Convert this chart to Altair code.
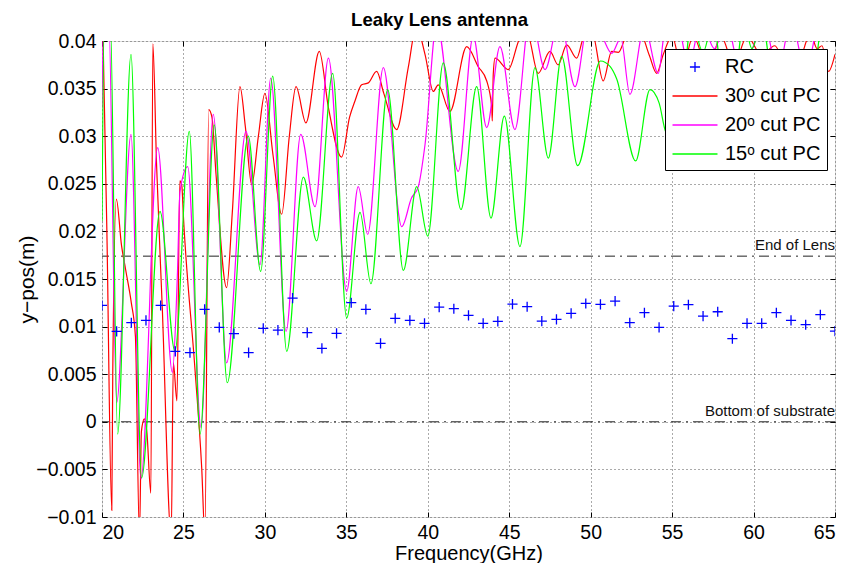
import altair as alt
import pandas as pd

FONT = "Liberation Sans"

# ---------------- data ----------------
rc_freq = [20.0, 20.9, 21.8, 22.7, 23.6, 24.5, 25.4, 26.3, 27.2, 28.1, 29.0, 29.9, 30.8,
           31.7, 32.6, 33.5, 34.4, 35.3, 36.2, 37.1, 38.0, 38.9, 39.8, 40.7, 41.6, 42.5,
           43.4, 44.3, 45.2, 46.1, 47.0, 47.9, 48.8, 49.7, 50.6, 51.5, 52.4, 53.3, 54.2,
           55.1, 56.0, 56.9, 57.8, 58.7, 59.6, 60.5, 61.4, 62.3, 63.2, 64.1, 65.0]
rc_ypos = [0.01222, 0.00950, 0.01041, 0.01065, 0.01222, 0.00740, 0.00726, 0.01181, 0.00992,
           0.00926, 0.00726, 0.00981, 0.00963, 0.01299, 0.00936, 0.00771, 0.00929, 0.01251,
           0.01181, 0.00824, 0.01086, 0.01065, 0.01034, 0.01205, 0.01188, 0.01118, 0.01034,
           0.01055, 0.01236, 0.01209, 0.01058, 0.01076, 0.01139, 0.01243, 0.01233, 0.01268,
           0.01041, 0.01146, 0.00992, 0.01215, 0.01230, 0.01110, 0.01156, 0.00873, 0.01034,
           0.01034, 0.01146, 0.01065, 0.01020, 0.01125, 0.00953]

red_freq = [20.0, 20.3, 20.6, 20.66, 20.88, 21.2, 21.45, 21.8, 22.05, 22.3, 22.42, 22.6, 22.75,
            23.0, 23.12, 23.35, 23.7, 24.25, 24.38, 24.6, 24.78, 24.9, 25.0, 25.7, 26.12, 26.32,
            26.55, 26.75, 27.0, 27.65, 28.0, 28.47, 28.8, 29.19, 29.6, 30.0, 30.5, 31.03, 31.5,
            31.91, 32.52, 33.34, 33.9, 34.71, 35.2, 35.53, 35.94, 36.35, 36.86, 37.3, 38.09,
            38.8, 39.3, 39.83, 40.34, 40.64, 41.36, 42.39, 43.1, 43.62, 43.93, 43.96, 44.02,
            44.13, 44.94, 45.66, 46.1, 46.78, 47.5, 48.0, 48.53, 49.14, 49.6, 50.1, 50.77,
            51.29, 51.7, 52.2, 53.0, 53.6, 54.05, 54.46, 55.0, 55.6, 56.3, 57.2, 58.0, 58.8,
            59.6, 60.5, 61.3, 62.0, 62.8, 63.5, 63.9, 64.2, 64.6, 65.0]
red_ypos = [0.046, 0.020, -0.0093, 0.005, 0.0234, 0.0185, 0.0160, 0.0125, 0.0090, -0.0120,
            -0.0010, 0.0003, -0.0010, -0.0075, 0.0397, 0.0270, 0.0120, -0.0120, 0.0062, 0.0022,
            0.0253, 0.0248, 0.0215, 0.0057, -0.0048, -0.0120, 0.0328, 0.0320, 0.0260, 0.0141,
            0.0220, 0.0352, 0.0310, 0.0249, 0.0300, 0.0345, 0.0280, 0.0218, 0.0300, 0.0352,
            0.0314, 0.0389, 0.0330, 0.0278, 0.0320, 0.0337, 0.0354, 0.0356, 0.0368, 0.0345,
            0.0307, 0.0372, 0.0415, 0.0386, 0.0347, 0.0354, 0.0326, 0.0394, 0.0373, 0.0358,
            0.0330, 0.0316, 0.0365, 0.0382, 0.0370, 0.0403, 0.0408, 0.0366, 0.0389, 0.0375,
            0.0396, 0.0382, 0.0405, 0.0408, 0.0358, 0.0389, 0.0388, 0.0405, 0.0410, 0.0385,
            0.0366, 0.0386, 0.0405, 0.0370, 0.0405, 0.0370, 0.0405, 0.0375, 0.0405, 0.0385,
            0.0395, 0.0375, 0.0380, 0.0408, 0.0392, 0.0395, 0.0368, 0.0386]

mag_freq = [20.0, 20.12, 20.4, 20.9, 21.78, 22.39, 23.42, 24.32, 24.62, 24.79, 25.26, 26.08,
            26.83, 27.65, 28.84, 29.7, 30.36, 31.3, 32.2, 33.08, 33.9, 35.02, 35.73, 36.31,
            37.27, 38.4, 39.0, 39.42, 39.83, 40.55, 41.87, 42.79, 43.62, 44.43, 45.35, 46.3,
            47.2, 48.1, 49.04, 49.9, 50.7, 51.29, 51.85, 52.41, 53.3, 54.15, 54.6, 55.3, 56.0,
            56.8, 57.6, 58.3, 59.2, 60.0, 60.6, 61.5, 62.3, 63.2, 64.0, 64.5, 65.0]
mag_ypos = [0.0330, 0.0430, 0.0430, 0.0020, 0.0302, -0.0060, 0.0288, 0.0052, 0.0150, 0.0242,
            0.0268, -0.0006, 0.0323, 0.0062, 0.0305, 0.0165, 0.0361, 0.0095, 0.0302, 0.0226,
            0.0382, 0.0137, 0.0247, 0.0197, 0.0372, 0.0205, 0.0235, 0.0247, 0.0291, 0.0418,
            0.0263, 0.0405, 0.0309, 0.0394, 0.0307, 0.0430, 0.0370, 0.0425, 0.0352, 0.0425,
            0.0405, 0.0387, 0.0403, 0.0344, 0.0415, 0.0366, 0.0415, 0.0420, 0.0375, 0.0420,
            0.0392, 0.0420, 0.0370, 0.0395, 0.0420, 0.0370, 0.0420, 0.0370, 0.0420, 0.0430,
            0.0420]

grn_freq = [20.0, 20.15, 20.5, 20.96, 21.78, 22.43, 23.56, 24.48, 25.36, 26.02, 26.89, 27.69,
            28.98, 29.74, 30.48, 31.34, 32.36, 33.18, 34.16, 35.02, 35.84, 36.51, 37.54, 38.5,
            39.32, 40.0, 40.95, 42.04, 43.0, 43.88, 44.7, 45.66, 46.58, 47.4, 48.22, 49.2,
            50.6, 51.2, 51.6, 52.76, 53.64, 54.2, 54.6, 55.3, 56.2, 56.9, 57.5, 58.5, 59.4,
            59.9, 60.5, 61.5, 62.5, 63.4, 64.3, 65.0]
grn_ypos = [0.0211, 0.0430, 0.0430, -0.0013, 0.0386, -0.0059, 0.0221, 0.0074, 0.0305, -0.0013,
            0.0312, 0.0041, 0.0300, 0.0158, 0.0363, 0.0074, 0.0257, 0.0190, 0.0366, 0.0109,
            0.0220, 0.0145, 0.0349, 0.0159, 0.0247, 0.0195, 0.0377, 0.0223, 0.0352, 0.0214,
            0.0321, 0.0184, 0.0372, 0.0277, 0.0384, 0.0269, 0.0379, 0.0373, 0.0360, 0.0274,
            0.0349, 0.0335, 0.0305, 0.0292, 0.0420, 0.0388, 0.0420, 0.0300, 0.0420, 0.0392,
            0.0420, 0.0320, 0.0380, 0.0330, 0.0430, 0.0440]

series_names = ["RC", "30ᵒ cut PC", "20ᵒ cut PC", "15ᵒ cut PC"]
series_colors = ["#0000ff", "#ff0000", "#ff00ff", "#00ff00"]

ref_ypos = [0.0174, 0.0]
ref_xpos = [65.0, 65.0]
ref_text = ["End of Lens", "Bottom of substrate"]

x_ticks = [20, 25, 30, 35, 40, 45, 50, 55, 60, 65]
y_ticks = [-0.01, -0.005, 0.0, 0.005, 0.01, 0.015, 0.02, 0.025, 0.03, 0.035, 0.04]

# ---------------- frames ----------------
rc_df = pd.DataFrame({"f": rc_freq, "y": rc_ypos, "series": series_names[0]})
curves = []
for name, fr, yy in [(series_names[1], red_freq, red_ypos),
                     (series_names[2], mag_freq, mag_ypos),
                     (series_names[3], grn_freq, grn_ypos)]:
    curves.append(pd.DataFrame({"f": fr, "y": yy, "series": name}))
curve_df = pd.concat(curves, ignore_index=True)
ref_df = pd.DataFrame({"f": ref_xpos, "y": ref_ypos, "label": ref_text})

# ---------------- scales / axes ----------------
xscale = alt.Scale(domain=[20, 65], nice=False, zero=False)
yscale = alt.Scale(domain=[-0.01, 0.04], nice=False, zero=False)

common = dict(labelFont=FONT, titleFont=FONT, titleFontWeight="normal",
              labelColor="black", titleColor="black")

# main axes: labels + dotted grid
xaxis_main = alt.Axis(values=x_ticks, format="d", title="Frequency(GHz)", grid=True,
                      gridDash=[1, 3], gridColor="#555", gridWidth=1, ticks=False,
                      domain=False, labelFontSize=19.5, labelPadding=6,
                      titleFontSize=20, titleY=42.5, titleBaseline="alphabetic", **common)
yaxis_main = alt.Axis(values=y_ticks, format="~g", title="y−pos(m)", grid=True,
                      gridDash=[1, 3], gridColor="#555", gridWidth=1, ticks=False,
                      domain=False, labelFontSize=19.5, labelPadding=6, titleFontSize=21,
                      titleX=-75, titleY=238, titleAngle=270, titleAlign="center",
                      titleBaseline="middle", **common)


def tick_axis(vals, orient):
    # tick-only axis pushed 5px inside the frame so that its ticks point inward
    return alt.Axis(values=vals, orient=orient, offset=-5, tickSize=5, tickColor="black",
                    tickWidth=1, labels=False, domain=False, grid=False, title=None)


legend = alt.Legend(title=None, orient="top-right", offset=8, fillColor="white",
                    strokeColor="black", padding=6, labelFont=FONT, labelFontSize=20,
                    labelColor="black", symbolSize=506, symbolStrokeWidth=1.3,
                    labelOffset=18, symbolOffset=12, rowPadding=7, labelLimit=300)

color = alt.Color("series:N", scale=alt.Scale(domain=series_names, range=series_colors),
                  legend=legend)
shape = alt.Shape("series:N",
                  scale=alt.Scale(domain=series_names,
                                  range=["M-0.45,0H0.45M0,-0.45V0.45", "M-2,0H2", "M-2,0H2",
                                         "M-2,0H2"]),
                  legend=legend)

ref_rules = alt.Chart(ref_df).mark_rule(color="#222", strokeWidth=1,
                                         strokeDash=[10, 5, 2, 5]).encode(
    y=alt.Y("y:Q", scale=yscale, axis=None))

ref_labels = alt.Chart(ref_df).mark_text(align="right", baseline="bottom", dy=-3,
                                          fontSize=15, font=FONT, color="#111").encode(
    x=alt.X("f:Q", scale=xscale, axis=tick_axis(x_ticks, "bottom")),
    y=alt.Y("y:Q", scale=yscale, axis=tick_axis(y_ticks, "left")),
    text="label:N")

lines = alt.Chart(curve_df).mark_line(clip=True, strokeWidth=1.2,
                                      interpolate="monotone").encode(
    x=alt.X("f:Q", scale=xscale, axis=tick_axis(x_ticks, "top")),
    y=alt.Y("y:Q", scale=yscale, axis=tick_axis(y_ticks, "right")),
    color=color)

points = alt.Chart(rc_df).mark_point(clip=True, filled=False, size=506,
                                     strokeWidth=1.3, opacity=1).encode(
    x=alt.X("f:Q", scale=xscale, axis=xaxis_main),
    y=alt.Y("y:Q", scale=yscale, axis=yaxis_main),
    color=color, shape=shape)

chart = alt.layer(ref_rules, ref_labels, lines, points).resolve_axis(
    x="independent", y="independent"
).properties(
    width=733, height=476,
    title=alt.Title("Leaky Lens antenna", fontSize=18.5, fontWeight="bold", font=FONT,
                    color="black", anchor="middle", offset=8, dx=-29, dy=6),
    autosize=alt.AutoSizeParams(type="none"),
    padding={"left": 94, "top": 33, "right": 5, "bottom": 46},
).configure_view(stroke="black", strokeWidth=1).configure(background="white")

chart.save("out.html", embed_options={"renderer": "svg", "actions": False})
